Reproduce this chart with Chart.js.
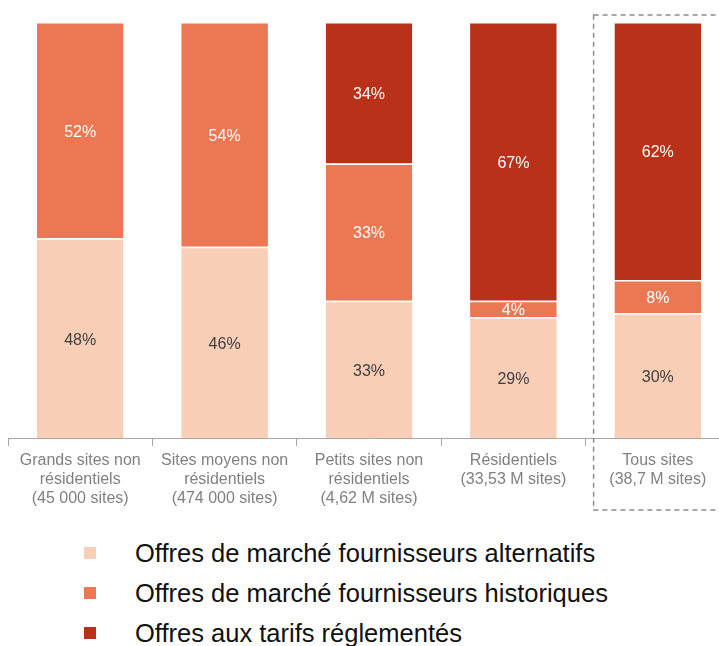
<!DOCTYPE html>
<html>
<head>
<meta charset="utf-8">
<script src="https://cdn.jsdelivr.net/npm/chart.js@4"></script>
<style>
  html, body { margin: 0; padding: 0; background: #fff; overflow: hidden; }
  #wrap { position: relative; width: 740px; height: 520px; }
  #legend { margin: 13px 0 0 84px; font-family: "Liberation Sans Narrow", "Liberation Sans", sans-serif; }
  .leg-item { display: flex; align-items: center; height: 40px; font-size: 25.5px; color: #111; }
  .leg-box { width: 12px; height: 12px; margin-right: 39px; }
</style>
</head>
<body>
<div id="wrap"><canvas id="chart" width="740" height="520"></canvas></div>
<div id="legend"></div>
<script>
// Catégories (une ligne par tableau = une ligne de libellé)
const categories = [
    ['Grands sites non', 'résidentiels', '(45 000 sites)'],
    ['Sites moyens non', 'résidentiels', '(474 000 sites)'],
    ['Petits sites non', 'résidentiels', '(4,62 M sites)'],
    ['Résidentiels', '(33,53 M sites)'],
    ['Tous sites', '(38,7 M sites)']
];

// Parts en %
const alternatifs = [48, 46, 33, 29, 30];
const historiques = [52, 54, 33, 4, 8];
const reglementes = [0, 0, 34, 67, 62];

const seriesNames = [
    'Offres de marché fournisseurs alternatifs',
    'Offres de marché fournisseurs historiques',
    'Offres aux tarifs réglementés'
];
const seriesColors = ['#F8CEB6', '#EC7753', '#B83118'];
const labelColors = ['#404040', '#ffffff', '#ffffff'];

// Étiquettes de valeur au centre des segments
const valueLabels = {
    id: 'valueLabels',
    afterDatasetsDraw(chart) {
        const ctx = chart.ctx;
        ctx.save();
        ctx.font = '16px "Liberation Sans Narrow", "Liberation Sans", sans-serif';
        ctx.textAlign = 'center';
        ctx.textBaseline = 'middle';
        chart.data.datasets.forEach((ds, i) => {
            const meta = chart.getDatasetMeta(i);
            meta.data.forEach((bar, j) => {
                const v = ds.data[j];
                if (!v) return;
                ctx.fillStyle = labelColors[i];
                ctx.fillText(v + '%', bar.x, (bar.y + bar.base) / 2 + 2);
            });
        });
        ctx.restore();
    }
};

// Cadre pointillé autour de "Tous sites"
const totalBox = {
    id: 'totalBox',
    afterDraw(chart) {
        const x = chart.scales.x;
        const last = categories.length - 1;
        const w = x.getPixelForValue(1) - x.getPixelForValue(0);
        const left = x.getPixelForValue(last) - w / 2 + 8;
        const ctx = chart.ctx;
        ctx.save();
        ctx.strokeStyle = '#8c8c8c';
        ctx.lineWidth = 1.5;
        ctx.setLineDash([5, 4]);
        ctx.strokeRect(left, 15, w + 20, 495);
        ctx.restore();
    }
};

const datasets = [alternatifs, historiques, reglementes].map((data, i) => ({
    label: seriesNames[i],
    data: data,
    backgroundColor: seriesColors[i],
    borderColor: '#ffffff',
    borderWidth: { top: 1.5, bottom: 0, left: 0, right: 0 },
    borderSkipped: false,
    barPercentage: 0.6,
    categoryPercentage: 1
}));

new Chart(document.getElementById('chart'), {
    type: 'bar',
    data: { labels: categories, datasets: datasets },
    options: {
        responsive: false,
        animation: false,
        layout: { padding: { top: 22, left: 8, right: 10, bottom: 0 } },
        plugins: { legend: { display: false }, tooltip: { enabled: false } },
        scales: {
            x: {
                stacked: true,
                afterFit: (scale) => { scale.height = 82; },
                grid: { display: true, drawOnChartArea: false, drawTicks: true, tickLength: 8, color: '#a6a6a6', offset: true },
                border: { color: '#a6a6a6', width: 1 },
                ticks: {
                    color: '#808080',
                    padding: 5,
                    maxRotation: 0,
                    font: { family: '"Liberation Sans Narrow", "Liberation Sans", sans-serif', size: 16, lineHeight: 1.2 }
                }
            },
            y: { stacked: true, display: false, min: 0, max: 100 }
        }
    },
    plugins: [valueLabels, totalBox]
});

// Légende HTML construite depuis les séries
document.getElementById('legend').innerHTML = seriesNames.map((name, i) => `
    <div class="leg-item"><span class="leg-box" style="background:${seriesColors[i]}"></span>${name}</div>
`).join('');
</script>
</body>
</html>
